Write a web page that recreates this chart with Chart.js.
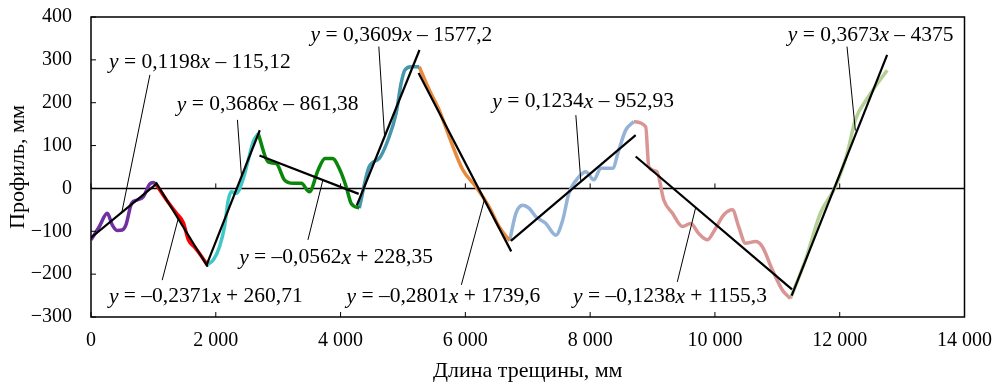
<!DOCTYPE html>
<html lang="ru">
<head>
<meta charset="UTF-8">
<title>Профиль трещины</title>
<script src="https://cdn.jsdelivr.net/npm/chart.js"></script>
<style>
    body { margin: 0; background: #fff; }
    canvas { display: block; }
</style>
</head>
<body>
<canvas id="chart" width="1004" height="384"></canvas>
<script>
// profile pieces (x = crack length, mm; y = profile, mm)
const purpleX = [0, 130, 261, 340, 420, 500, 560, 650, 740, 840, 940, 1000, 1050];
const purpleY = [-120, -90, -58, -85, -98, -97, -85, -35, -27, -19, 10, 14, 8];
const redX = [1050, 1210, 1370, 1480, 1560, 1660, 1770, 1860];
const redY = [8, -27, -58, -80, -120, -137, -158, -178];
const cyanX = [1860, 1960, 2060, 2140, 2200, 2250, 2330, 2440, 2520, 2600, 2680];
const cyanY = [-178, -167, -136, -89, -27, -8, -11, 23, 66, 109, 128];
const greenX = [2680, 2840, 2970, 3100, 3240, 3370, 3500, 3640, 3750, 3870, 3990, 4090, 4170, 4300];
const greenY = [128, 62, 58, 20, 12, 12, -8, 43, 70, 70, 43, 4, -35, -46];
const tealX = [4300, 4460, 4620, 4760, 4890, 4970, 5030, 5130, 5260];
const tealY = [-46, 51, 70, 113, 175, 245, 276, 284, 284];
const orangeX = [5260, 5420, 5580, 5740, 5960, 6170, 6380, 6540, 6710];
const orangeY = [284, 230, 183, 121, 43, 4, -43, -89, -122];
const blueX = [6710, 6810, 6920, 7020, 7130, 7290, 7450, 7560, 7660, 7820, 7930, 8060, 8170, 8360, 8460, 8570, 8700];
const blueY = [-122, -58, -39, -46, -66, -82, -109, -74, -11, 27, 39, 20, 47, 47, 90, 136, 156];
const pinkX = [8700, 8890, 8940, 9070, 9180, 9320, 9480, 9610, 9740, 9880, 9980, 10140, 10280, 10380, 10490, 10650, 10760, 10920, 11080, 11210];
const pinkY = [156, 144, 51, 39, -27, -58, -89, -82, -105, -120, -101, -62, -50, -89, -128, -124, -136, -190, -237, -257];
const lightGreenX = [11210, 11450, 11690, 11930, 12120, 12250, 12460, 12760];
const lightGreenY = [-257, -167, -58, 4, 82, 160, 214, 276];

const pieceX = [purpleX, redX, cyanX, greenX, tealX, orangeX, blueX, pinkX, lightGreenX];
const pieceY = [purpleY, redY, cyanY, greenY, tealY, orangeY, blueY, pinkY, lightGreenY];
const pieceColors = ['#7030a0', '#ff0000', '#40c8c8', '#0a870a', '#4697ad', '#e88a3c', '#95b3d7', '#d99594', '#b5d094'];

// linear trends as printed on the chart, and where each one is drawn
const trendSlope = [0.1198, -0.2371, 0.3686, -0.0562, 0.3609, -0.2801, 0.1234, -0.1238, 0.3673];
const trendIntercept = [-115.12, 260.71, -861.38, 228.35, -1577.2, 1739.6, -952.93, 1155.3, -4375];
const trendFrom = [0, 1040, 1850, 2700, 4260, 5250, 6730, 8730, 11230];
const trendTo = [1040, 1870, 2705, 4290, 5265, 6735, 8730, 11235, 12760];

// equation labels (centre, in data units) and their leader lines
const eqText = [
    'y = 0,1198x – 115,12', 'y = –0,2371x + 260,71', 'y = 0,3686x – 861,38',
    'y = –0,0562x + 228,35', 'y = 0,3609x – 1577,2', 'y = –0,2801x + 1739,6',
    'y = 0,1234x – 952,93', 'y = –0,1238x + 1155,3', 'y = 0,3673x – 4375'
];
const eqX = [1744, 1840, 2832, 3928, 4976, 5648, 7888, 9280, 12496];
const eqY = [295, -253, 195, -162, 358, -253, 202, -253, 358];
const leaderFromX = [944, 1141, 2347, 3477, 4613, 5936, 7771, 9397, 12117];
const leaderFromY = [265, -214, 160, -120, 331, -225, 171, -218, 331];
const leaderToX = [491, 1397, 2411, 3717, 4704, 6304, 7851, 9691, 12251];
const leaderToY = [-58, -71, 30, 20, 125, -27, 16, -45, 135];

const xTicksMax = 14000;
const yMin = -300, yMax = 400;
const serif = "'Liberation Serif', 'Times New Roman', serif";

function toPoints(xs, ys) {
    return xs.map((x, i) => ({ x: x, y: ys[i] }));
}

const datasets = [];
pieceX.forEach((xs, i) => {
    datasets.push({
        data: toPoints(xs, pieceY[i]),
        borderColor: pieceColors[i],
        borderWidth: 3.5,
        showLine: true,
        pointRadius: 0,
        cubicInterpolationMode: 'monotone',
        order: 2
    });
});
trendSlope.forEach((k, i) => {
    datasets.push({
        data: [
            { x: trendFrom[i], y: k * trendFrom[i] + trendIntercept[i] },
            { x: trendTo[i], y: k * trendTo[i] + trendIntercept[i] }
        ],
        borderColor: '#000',
        borderWidth: 2.2,
        showLine: true,
        pointRadius: 0,
        order: 1
    });
});

function thousands(v) {
    if (Math.abs(v) < 1000) return String(v);
    return Math.floor(v / 1000) + '\u00a0' + String(v % 1000).padStart(3, '0');
}

// frame, zero line, small inward ticks, equations with leaders
const decorations = {
    id: 'decorations',
    beforeDatasetsDraw(chart) {
        const { ctx, chartArea: a, scales: { x, y } } = chart;
        ctx.save();
        ctx.strokeStyle = '#000';
        ctx.lineWidth = 1.5;
        const y0 = y.getPixelForValue(0);
        ctx.beginPath();
        ctx.moveTo(a.left, y0);
        ctx.lineTo(a.right, y0);
        ctx.stroke();
        ctx.lineWidth = 1;
        ctx.beginPath();
        x.ticks.forEach(t => {
            const px = x.getPixelForValue(t.value);
            ctx.moveTo(px, y0);
            ctx.lineTo(px, y0 - 5);
        });
        ctx.stroke();
        ctx.restore();
    },
    afterDatasetsDraw(chart) {
        const { ctx, chartArea: a, scales: { x, y } } = chart;
        ctx.save();
        // leader lines
        ctx.strokeStyle = '#000';
        ctx.lineWidth = 1;
        ctx.beginPath();
        leaderFromX.forEach((lx, i) => {
            ctx.moveTo(x.getPixelForValue(lx), y.getPixelForValue(leaderFromY[i]));
            ctx.lineTo(x.getPixelForValue(leaderToX[i]), y.getPixelForValue(leaderToY[i]));
        });
        ctx.stroke();

        // equation text, x and y in italics
        ctx.fillStyle = '#000';
        ctx.textBaseline = 'middle';
        ctx.textAlign = 'left';
        const upright = '21.5px ' + serif;
        const italic = 'italic 21.5px ' + serif;
        eqText.forEach((txt, i) => {
            const chars = txt.split('');
            let width = 0;
            chars.forEach(c => {
                ctx.font = (c === 'x' || c === 'y') ? italic : upright;
                width += ctx.measureText(c).width;
            });
            let cx = x.getPixelForValue(eqX[i]) - width / 2;
            const cy = y.getPixelForValue(eqY[i]);
            chars.forEach(c => {
                ctx.font = (c === 'x' || c === 'y') ? italic : upright;
                ctx.fillText(c, cx, cy);
                cx += ctx.measureText(c).width;
            });
        });

        // frame and inward ticks
        ctx.lineWidth = 1.5;
        ctx.strokeRect(a.left, a.top, a.right - a.left, a.bottom - a.top);
        ctx.lineWidth = 1;
        ctx.beginPath();
        x.ticks.forEach(t => {
            const px = x.getPixelForValue(t.value);
            ctx.moveTo(px, a.bottom);
            ctx.lineTo(px, a.bottom - 5);
        });
        y.ticks.forEach(t => {
            const py = y.getPixelForValue(t.value);
            ctx.moveTo(a.left, py);
            ctx.lineTo(a.left + 5, py);
        });
        ctx.stroke();
        ctx.restore();
    }
};

new Chart(document.getElementById('chart'), {
    type: 'scatter',
    data: { datasets: datasets },
    options: {
        responsive: false,
        devicePixelRatio: 1,
        animation: false,
        layout: { padding: { top: 17, right: 38, left: 0, bottom: 0 } },
        plugins: { legend: { display: false }, tooltip: { enabled: false } },
        scales: {
            x: {
                type: 'linear',
                min: 0,
                max: xTicksMax,
                grid: { display: false, drawTicks: false },
                border: { display: false },
                ticks: {
                    stepSize: 2000,
                    padding: 12,
                    color: '#000',
                    maxRotation: 0,
                    font: { family: serif, size: 20 },
                    callback: v => thousands(v)
                },
                title: {
                    display: true,
                    text: 'Длина трещины, мм',
                    color: '#000',
                    padding: { top: 0, bottom: 0 },
                    font: { family: serif, size: 22 }
                },
                afterFit: s => { s.height = 67; }
            },
            y: {
                min: yMin,
                max: yMax,
                grid: { display: false, drawTicks: false },
                border: { display: false },
                ticks: {
                    stepSize: 100,
                    padding: 19,
                    color: '#000',
                    font: { family: serif, size: 20 },
                    callback: v => (v < 0 ? '\u2212' + (-v) : String(v))
                },
                title: {
                    display: true,
                    text: 'Профиль, мм',
                    color: '#000',
                    padding: { top: 5, bottom: 0 },
                    font: { family: serif, size: 22 }
                },
                afterFit: s => {
                    s.width = 91;
                    // the big label gap should not push the plot down
                    s.paddingTop = 0;
                    s.paddingBottom = 0;
                }
            }
        }
    },
    plugins: [decorations]
});
</script>
</body>
</html>
